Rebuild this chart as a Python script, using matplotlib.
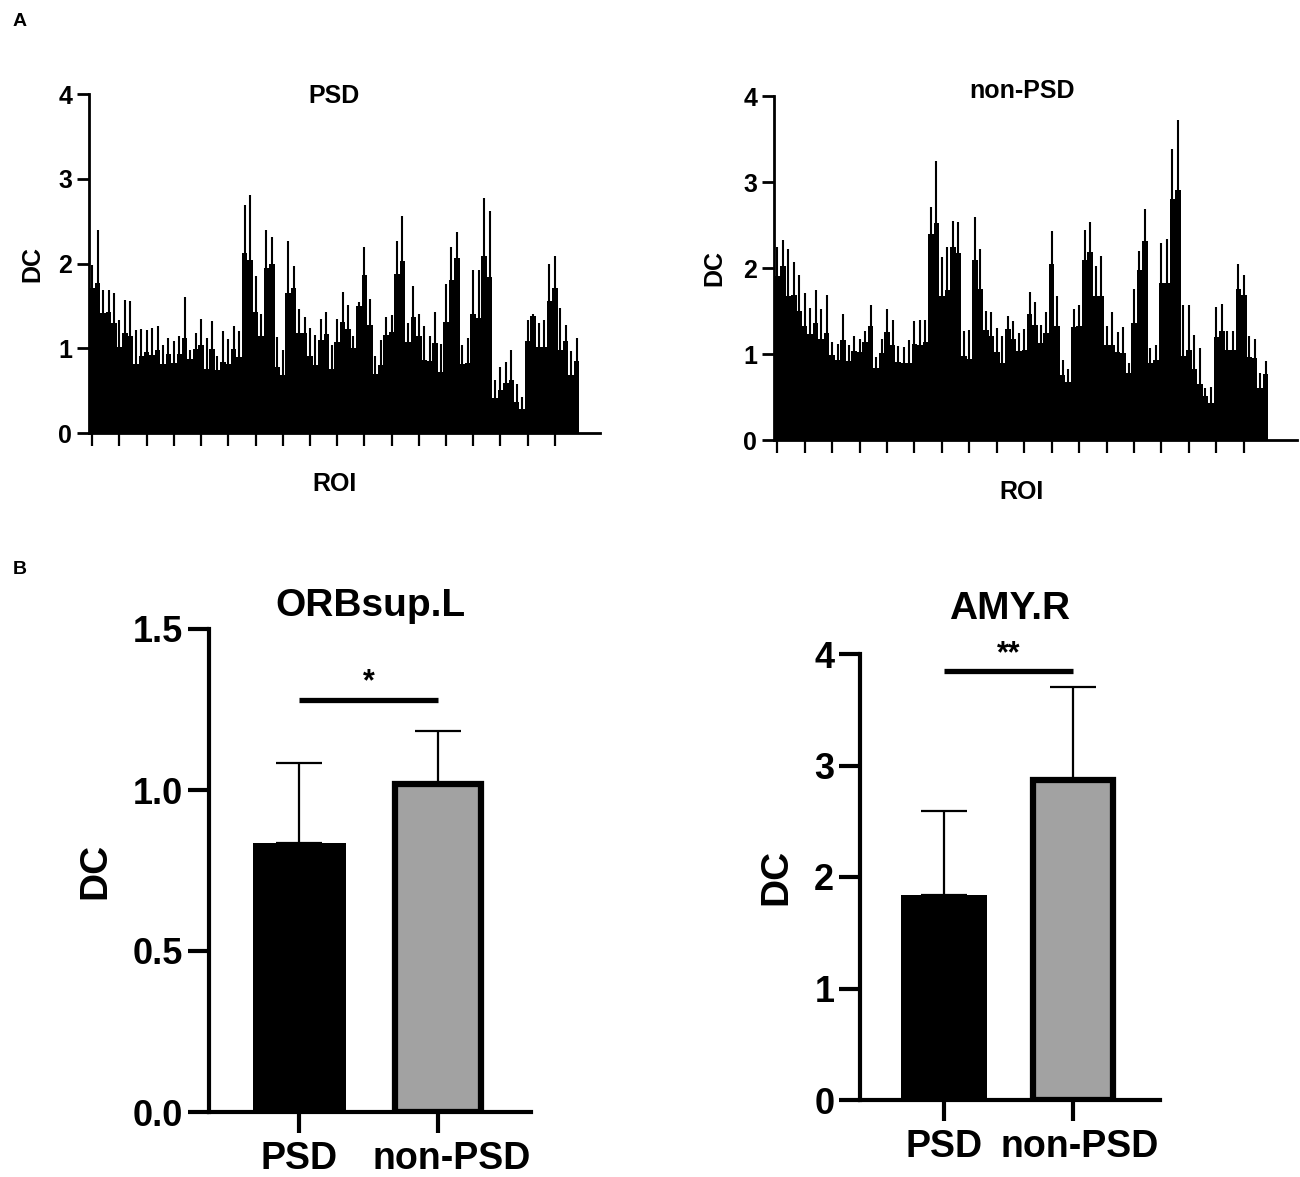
import matplotlib
matplotlib.use('Agg')
import matplotlib.pyplot as plt
import numpy as np
from matplotlib.ticker import FormatStrFormatter
from matplotlib.transforms import ScaledTranslation

plt.rcParams['font.family'] = ['Liberation Sans', 'DejaVu Sans']
plt.rcParams['font.weight'] = 'bold'
plt.rcParams['axes.labelweight'] = 'bold'
plt.rcParams['axes.titleweight'] = 'bold'

# --- Panel A: DC of 90 ROIs, mean and mean+SD (upper end of error bar) ---
psd_mean = [
    1.71, 1.77, 1.42, 1.43, 1.30, 1.02, 1.18, 1.15, 0.82, 0.91,
    0.96, 0.92, 0.98, 0.82, 0.93, 0.83, 0.93, 1.12, 0.87, 0.99,
    1.04, 0.76, 0.99, 0.74, 0.84, 0.81, 0.99, 0.90, 2.12, 2.04,
    1.43, 1.15, 1.95, 2.00, 0.78, 0.68, 1.65, 1.71, 1.18, 1.18,
    0.91, 0.80, 1.10, 1.17, 0.75, 1.07, 1.31, 1.23, 1.00, 1.50,
    1.87, 1.27, 0.70, 0.80, 1.16, 1.19, 1.88, 2.03, 1.07, 1.37,
    1.14, 0.86, 0.85, 1.06, 0.72, 1.31, 1.80, 2.07, 0.81, 0.83,
    1.41, 1.36, 2.09, 1.84, 0.41, 0.51, 0.59, 0.63, 0.37, 0.28,
    1.09, 1.38, 1.02, 1.02, 1.56, 1.71, 0.98, 1.08, 0.68, 0.85,
]
psd_upper = [
    1.98, 2.39, 1.69, 1.69, 1.65, 1.33, 1.57, 1.56, 1.21, 1.23,
    1.22, 1.24, 1.26, 1.04, 1.12, 1.09, 1.14, 1.61, 0.98, 1.18,
    1.34, 1.12, 1.32, 0.91, 1.20, 1.11, 1.26, 1.20, 2.69, 2.81,
    1.85, 1.41, 2.39, 2.31, 1.13, 0.98, 2.26, 1.97, 1.46, 1.37,
    1.24, 1.16, 1.34, 1.43, 1.04, 1.34, 1.66, 1.51, 1.14, 1.55,
    2.20, 1.58, 0.91, 1.10, 1.37, 1.39, 2.26, 2.56, 1.30, 1.73,
    1.40, 1.26, 1.14, 1.43, 1.05, 1.76, 2.19, 2.37, 1.04, 1.12,
    1.92, 1.92, 2.77, 2.62, 0.63, 0.78, 0.84, 0.98, 0.58, 0.42,
    1.33, 1.40, 1.30, 1.33, 2.00, 2.09, 1.47, 1.28, 0.97, 1.12,
]
nonpsd_mean = [
    1.91, 2.02, 1.68, 1.69, 1.50, 1.33, 1.23, 1.36, 1.17, 1.24,
    0.99, 0.93, 1.16, 0.92, 1.04, 1.02, 1.14, 1.32, 0.84, 1.01,
    1.26, 1.10, 0.91, 0.89, 0.90, 1.12, 1.10, 1.14, 2.40, 2.52,
    1.68, 1.74, 2.24, 2.18, 0.98, 0.94, 2.09, 1.76, 1.28, 1.21,
    1.02, 0.90, 1.29, 1.18, 1.04, 1.05, 1.47, 1.34, 1.13, 1.24,
    2.05, 1.32, 0.76, 0.68, 1.31, 1.33, 2.09, 2.19, 1.67, 1.67,
    1.10, 1.10, 1.02, 1.01, 0.78, 1.36, 1.98, 2.31, 0.90, 0.93,
    1.83, 1.82, 2.80, 2.91, 0.98, 1.05, 0.83, 0.65, 0.51, 0.43,
    1.20, 1.27, 1.05, 1.05, 1.76, 1.69, 0.96, 0.95, 0.60, 0.77,
]
nonpsd_upper = [
    2.25, 2.33, 2.22, 2.07, 1.92, 1.71, 1.54, 1.74, 1.52, 1.69,
    1.14, 1.12, 1.46, 1.10, 1.21, 1.18, 1.27, 1.57, 0.97, 1.18,
    1.52, 1.40, 1.09, 1.08, 1.16, 1.38, 1.40, 1.40, 2.71, 3.25,
    2.13, 2.24, 2.55, 2.54, 1.27, 1.28, 2.59, 2.22, 1.50, 1.49,
    1.30, 1.21, 1.44, 1.38, 1.24, 1.29, 1.72, 1.61, 1.34, 1.49,
    2.43, 1.67, 0.93, 0.83, 1.52, 1.57, 2.44, 2.53, 2.02, 2.14,
    1.33, 1.49, 1.26, 1.31, 0.90, 1.76, 2.20, 2.69, 1.07, 1.10,
    2.29, 2.34, 3.38, 3.72, 1.57, 1.57, 1.22, 1.07, 0.60, 0.62,
    1.55, 1.58, 1.27, 1.27, 2.05, 1.92, 1.21, 1.17, 0.78, 0.92,
]

# --- Panel B: group comparison ---
groups = ['PSD', 'non-PSD']
orb_mean = [0.834, 1.02]
orb_upper = [1.084, 1.182]
amy_mean = [1.836, 2.87]
amy_upper = [2.59, 3.70]

W, H = 1300, 1177
fig = plt.figure(figsize=(W / 100, H / 100), dpi=100)


def px_box(left, right, top, bottom):
    return [left / W, 1 - bottom / H, (right - left) / W, (bottom - top) / H]


def roi_panel(box, means, uppers, title, xmax, dc_pad, title_y):
    ax = fig.add_axes(box)
    means = np.asarray(means)
    uppers = np.asarray(uppers)
    x = np.arange(len(means))
    ax.bar(x, means, width=1.0, color='black', edgecolor='none')
    ax.errorbar(x, means, yerr=[np.zeros_like(means), uppers - means],
                fmt='none', ecolor='black', elinewidth=1.5, capsize=0)
    ax.set_xlim(-0.6, xmax)
    ax.set_ylim(0, 4)
    ax.set_yticks(range(5))
    ax.set_xticks(np.arange(0, len(means), 5))
    ax.set_xticklabels([])
    for s in ['top', 'right']:
        ax.spines[s].set_visible(False)
    for s in ['left', 'bottom']:
        ax.spines[s].set_linewidth(2)
    ax.tick_params(axis='y', length=9, width=2, pad=3, labelsize=18)
    ax.tick_params(axis='x', length=9, width=1.6)
    mid = (len(means) - 1) / 2
    ax.text(mid, title_y, title, ha='center', va='center', fontsize=18)
    ax.text(mid, -0.6, 'ROI', ha='center', va='center', fontsize=18)
    ax.set_ylabel('DC', fontsize=18, labelpad=dc_pad)
    return ax


def group_panel(box, means, uppers, title, ymax, yticks, fmt, stars,
                sig_y, star_y, shift_px, title_pad):
    ax = fig.add_axes(box)
    means = np.asarray(means)
    uppers = np.asarray(uppers)
    x = np.arange(len(groups))
    ax.bar(x[0], means[0], width=0.67, color='black', edgecolor='none', zorder=2)
    ax.bar(x[1], means[1], width=0.62, color='#a2a2a2', edgecolor='black',
           linewidth=4.5, zorder=2)
    ax.errorbar(x, means, yerr=[np.zeros_like(means), uppers - means],
                fmt='none', ecolor='black', elinewidth=1.6, capsize=16.5,
                capthick=1.6, zorder=1)
    ax.plot([x[0], x[1]], [sig_y, sig_y], color='black', lw=3.8,
            solid_capstyle='butt', clip_on=False)
    ax.text((x[0] + x[1]) / 2, star_y, stars, ha='center', va='center',
            fontsize=22)
    ax.set_xlim(-0.65, 1.67)
    ax.set_ylim(0, ymax)
    ax.set_yticks(yticks)
    ax.yaxis.set_major_formatter(FormatStrFormatter(fmt))
    ax.set_xticks(x)
    ax.set_xticklabels(groups)
    for s in ['top', 'right']:
        ax.spines[s].set_visible(False)
    for s in ['left', 'bottom']:
        ax.spines[s].set_linewidth(3)
    ax.tick_params(axis='y', length=15, width=3, pad=3.5, labelsize=26)
    ax.tick_params(axis='x', length=15, width=3, pad=6, labelsize=27)
    lab = ax.get_xticklabels()[1]
    lab.set_transform(lab.get_transform() +
                      ScaledTranslation(shift_px / 100, 0, fig.dpi_scale_trans))
    ax.set_title(title, fontsize=28, pad=title_pad)
    ax.set_ylabel('DC', fontsize=28, labelpad=14)
    return ax


roi_panel(px_box(89, 600, 94, 433), psd_mean, psd_upper, 'PSD', 93.3, 10, 3.98)
roi_panel(px_box(774, 1297, 96, 440), nonpsd_mean, nonpsd_upper, 'non-PSD',
          94.7, 12, 4.06)

group_panel(px_box(209, 531, 629, 1112), orb_mean, orb_upper, 'ORBsup.L',
            1.5, [0, 0.5, 1.0, 1.5], '%.1f', '*', 1.28, 1.335, 14, 9)
group_panel(px_box(860, 1160, 654, 1100), amy_mean, amy_upper, 'AMY.R',
            4, [0, 1, 2, 3, 4], '%d', '**', 3.85, 4.0, 6, 25)

fig.text(20 / W, 1 - 21 / H, 'A', fontsize=14, ha='center', va='center')
fig.text(20 / W, 1 - 570 / H, 'B', fontsize=14, ha='center', va='center')

fig.savefig('out.png', dpi=100)
